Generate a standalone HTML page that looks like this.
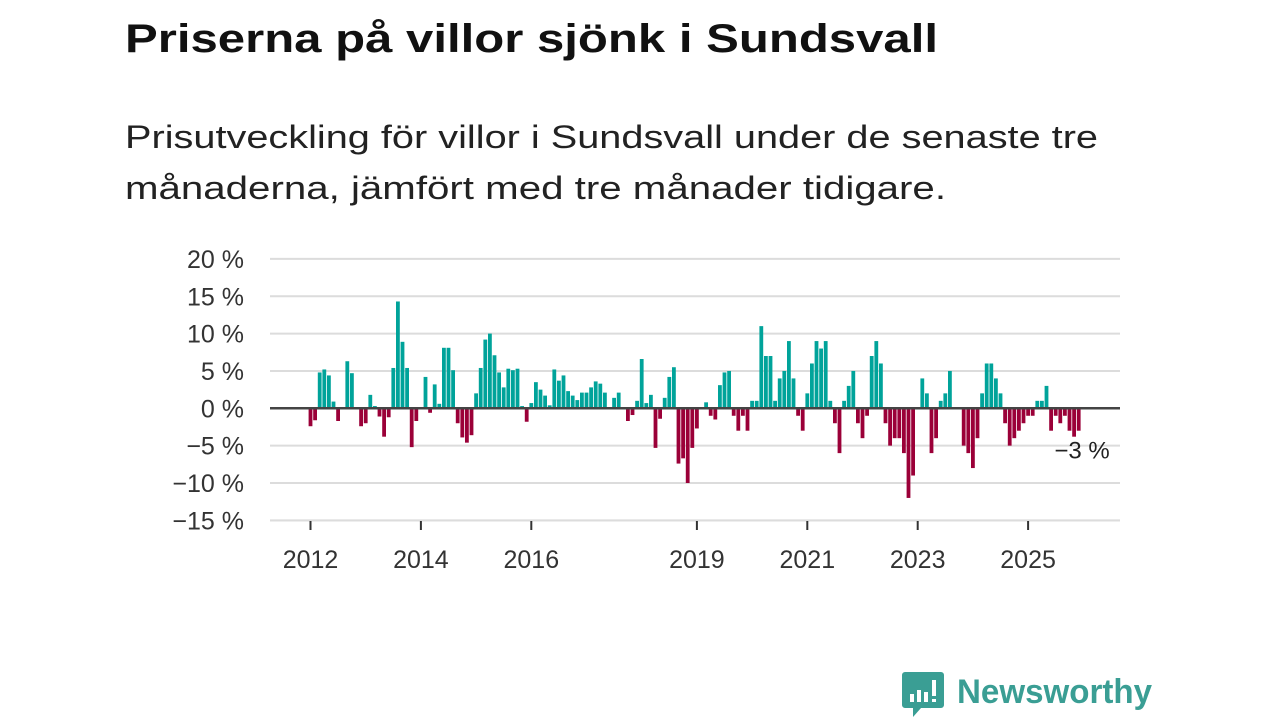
<!DOCTYPE html>
<html><head><meta charset="utf-8"><style>
html,body{margin:0;padding:0;background:#fff;}
svg{display:block;font-family:"Liberation Sans","DejaVu Sans",sans-serif;}
</style></head><body>
<svg id="chart" width="1280" height="720" viewBox="0 0 1280 720">
<text x="125" y="52" font-size="40" font-weight="bold" fill="#111" textLength="813" lengthAdjust="spacingAndGlyphs">Priserna på villor sjönk i Sundsvall</text>
<text x="125" y="148" font-size="32" fill="#222" textLength="973" lengthAdjust="spacingAndGlyphs">Prisutveckling för villor i Sundsvall under de senaste tre</text>
<text x="125" y="199" font-size="32" fill="#222" textLength="821" lengthAdjust="spacingAndGlyphs">månaderna, jämfört med tre månader tidigare.</text>
<g id="grid"></g>
<g id="bars"></g>
<g id="xaxis"></g>
<g id="logo">
<path d="M905 672 h36 a3 3 0 0 1 3 3 v30 a3 3 0 0 1 -3 3 h-20 l-8 9 v-9 h-8 a3 3 0 0 1 -3 -3 v-30 a3 3 0 0 1 3 -3z" fill="#3a9e94"/>
<rect x="910" y="694" width="4" height="8" fill="#fff"/><rect x="917" y="690" width="4" height="12" fill="#fff"/><rect x="924" y="692" width="4" height="10" fill="#fff"/><rect x="932" y="680" width="4" height="16" fill="#fff"/><rect x="932" y="699" width="4" height="3" fill="#fff"/>
<text x="957" y="703" font-size="34" font-weight="bold" fill="#3a9e94" textLength="195" lengthAdjust="spacingAndGlyphs">Newsworthy</text>
</g>
</svg>
<script>
const values = [-2.4,-1.6,4.8,5.2,4.4,0.9,-1.7,0,6.3,4.7,0,-2.4,-2,1.8,0.3,-1.1,-3.8,-1.2,5.4,14.3,8.9,5.4,-5.2,-1.7,0,4.2,-0.6,3.2,0.6,8.1,8.1,5.1,-2,-3.9,-4.6,-3.6,2,5.4,9.2,10,7.1,4.8,2.8,5.3,5.1,5.3,0.3,-1.8,0.7,3.5,2.5,1.7,0.4,5.2,3.7,4.4,2.3,1.7,
1.1,2.1,2.1,2.8,3.6,3.3,2.1,0,1.4,2.1,0,-1.7,-0.9,1,6.6,0.7,1.8,-5.3,-1.4,1.4,4.2,5.5,-7.4,-6.7,-10,-5.3,-2.7,0,0.8,-1,-1.5,3.1,4.8,5,-1,-3,-1,-3,1,1,11,7,7,1,4,5,9,4,-1,-3,2,6,9,8,9,1,-2,-6,1,3,
5,-2,-4,-1,7,9,6,-2,-5,-4,-4,-6,-12,-9,0,4,2,-6,-4,1,2,5,0,0,-5,-6,-8,-4,2,6,6,4,2,-2,-5,-4,-3,-2,-1,-1,1,1,3,-3,-1,-2,-1,-3,-3.8,-3];
const yTicks = [20,15,10,5,0,-5,-10,-15];
const yTickLabels = ["20 %","15 %","10 %","5 %","0 %","\u22125 %","\u221210 %","\u221215 %"];
const xYears = [2012,2014,2016,2019,2021,2023,2025];
const lastLabel = ["\u22123 %"];
const startYear = 2012;
const NS = "http://www.w3.org/2000/svg";
const y = v => 408.3 - v * 7.47;
const x = i => 310.5 + i * 4.6;
function mk(tag, attrs, parent){const e=document.createElementNS(NS,tag);for(const k in attrs)e.setAttribute(k,attrs[k]);parent.appendChild(e);return e;}
const grid=document.getElementById('grid');
yTicks.forEach((t,k)=>{
  if(t!==0){const l=mk('line',{x1:270,x2:1120,y1:y(t),y2:y(t),stroke:'#dcdcdc','stroke-width':2},grid);
  
  }
  const tx=mk('text',{x:244,y:y(t)+9,'text-anchor':'end','font-size':25,fill:'#333'},grid);
  tx.textContent=yTickLabels[k];
  
  
});
const bars=document.getElementById('bars');
values.forEach((v,i)=>{
  const r=mk('rect',{x:x(i)-1.9,width:3.8,y:Math.min(y(v),y(0)),height:Math.abs(y(v)-y(0)),fill:v>=0?'#00a39a':'#9b0038'},bars);
  
  
});
const zl=mk('line',{x1:270,x2:1120,y1:y(0),y2:y(0),stroke:'#444','stroke-width':2.5},bars);


const lbl=mk('text',{x:x(values.length-1)+31,y:y(values[values.length-1])+28,'text-anchor':'end','font-size':24,fill:'#222'},bars);
lbl.textContent=lastLabel[0];


const xa=document.getElementById('xaxis');
const bl=mk('line',{x1:270,x2:1120,y1:521,y2:521,stroke:'#dcdcdc','stroke-width':1},xa);


xYears.forEach(yr=>{
  const xi=x((yr-startYear)*12);
  const tk=mk('line',{x1:xi,x2:xi,y1:521,y2:530,stroke:'#333','stroke-width':2},xa);
  
  
  const t=mk('text',{x:xi,y:568,'text-anchor':'middle','font-size':25,fill:'#333'},xa);
  t.textContent=yr;
  
  
});
</script>
</body></html>
